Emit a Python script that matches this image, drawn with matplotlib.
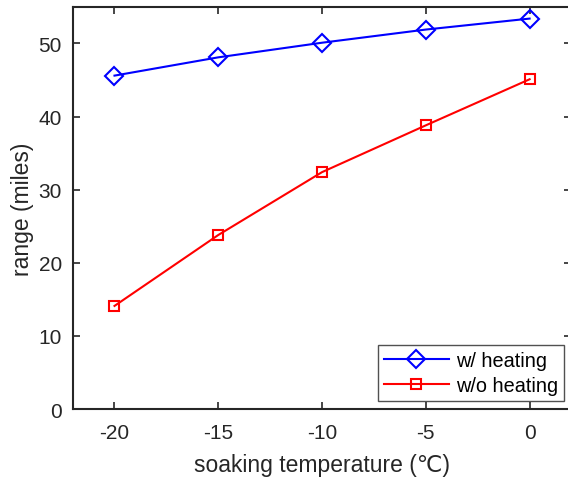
import matplotlib
matplotlib.use('Agg')
import matplotlib.pyplot as plt

plt.rcParams['font.family'] = ['Liberation Sans', 'DejaVu Sans', 'Noto Sans CJK SC']
plt.rcParams['axes.unicode_minus'] = False

temps = [-20, -15, -10, -5, 0]
with_heating = [45.6, 48.1, 50.1, 51.9, 53.4]
without_heating = [14.1, 23.8, 32.4, 38.8, 45.1]
xticks = [-20, -15, -10, -5, 0]
yticks = [0, 10, 20, 30, 40, 50]

fig = plt.figure(figsize=(5.68, 4.81), dpi=100)
ax = fig.add_axes([0.1285, 0.1476, 0.877, 0.836])

ax.plot(temps, with_heating, color='#0000ff', lw=1.5, marker='D', markersize=9,
        markerfacecolor='none', markeredgewidth=1.5, label='w/ heating')
ax.plot(temps, without_heating, color='#ff0000', lw=1.5, marker='s', markersize=7,
        markerfacecolor='none', markeredgewidth=1.5, label='w/o heating')

ax.set_xlim(-22, 2)
ax.set_ylim(0, 55)
ax.set_xticks(xticks)
ax.set_yticks(yticks)
ax.tick_params(direction='in', length=5, width=1.2, colors='#262626',
               labelsize=15, top=True, right=True)
ax.tick_params(axis='x', pad=10)
ax.tick_params(axis='y', pad=8)
for s in ax.spines.values():
    s.set_linewidth(1.5)
    s.set_color('#262626')

ax.set_xlabel('soaking temperature (\u2103)', fontsize=16.5, color='#262626', labelpad=8)
ax.set_ylabel('range (miles)', fontsize=16.5, color='#262626', labelpad=3)

leg = ax.legend(loc='lower right', bbox_to_anchor=(0.986, 0.02), borderaxespad=0,
                fontsize=14.3, fancybox=False, edgecolor='#262626', handlelength=3.3,
                borderpad=0.3, labelspacing=0.3, handletextpad=0.35)
leg.get_frame().set_linewidth(1.0)

fig.savefig('out.png', dpi=100)
